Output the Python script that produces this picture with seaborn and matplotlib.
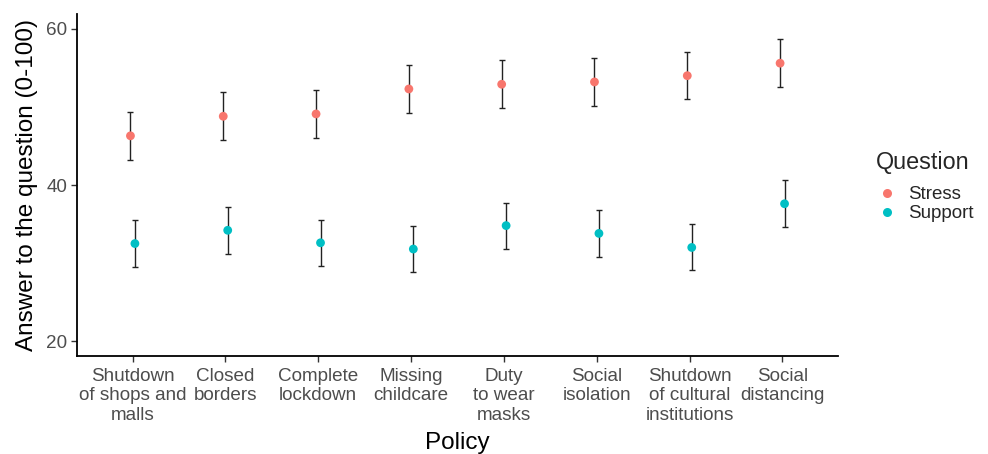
import numpy as np
import pandas as pd
import matplotlib
matplotlib.use("Agg")
import matplotlib.pyplot as plt
import seaborn as sns

# Policy categories (axis tick labels, wrapped)
policies = [
    "Shutdown\nof shops and\nmalls",
    "Closed\nborders",
    "Complete\nlockdown",
    "Missing\nchildcare",
    "Duty\nto wear\nmasks",
    "Social\nisolation",
    "Shutdown\nof cultural\ninstitutions",
    "Social\ndistancing",
]

# Mean answers and half-widths of the error bars
stress_mean = [46.3, 48.8, 49.1, 52.3, 52.9, 53.2, 54.0, 55.6]
stress_err = [3.1, 3.1, 3.05, 3.05, 3.1, 3.1, 3.05, 3.1]
support_mean = [32.5, 34.2, 32.6, 31.8, 34.8, 33.8, 32.0, 37.6]
support_err = [3.0, 3.0, 2.95, 2.95, 2.95, 3.0, 2.95, 3.0]

questions = ["Stress", "Support"]
palette = {"Stress": "#F8766D", "Support": "#00BFC4"}
dodge = {"Stress": -0.024, "Support": 0.024}

rows = []
for q, means, errs in [("Stress", stress_mean, stress_err),
                       ("Support", support_mean, support_err)]:
    for i, (m, e) in enumerate(zip(means, errs)):
        rows.append({"Policy": policies[i], "pos": i + 1 + dodge[q],
                     "Question": q, "Answer": m, "err": e})
df = pd.DataFrame(rows)

sns.set_theme(style="ticks")
plt.rcParams["font.family"] = ["Liberation Sans", "DejaVu Sans"]

fig = plt.figure(figsize=(9.88, 4.54), dpi=100)
ax = fig.add_axes([77 / 988, 1 - 356 / 454, (838 - 77) / 988, (356 - 14) / 454])

# Error bars underneath the points
for q in questions:
    sub = df[df["Question"] == q]
    ax.errorbar(sub["pos"], sub["Answer"], yerr=sub["err"], fmt="none",
                ecolor="#222222", elinewidth=1.0, capsize=2.5, capthick=1.0,
                zorder=2)

sns.scatterplot(data=df, x="pos", y="Answer", hue="Question",
                hue_order=questions, palette=palette, s=40, linewidth=0,
                ax=ax, zorder=3, legend=False)

ax.set_xlim(0.4, 8.6)
ax.set_ylim(18.1, 61.9)
ax.set_xticks(range(1, len(policies) + 1))
ax.set_xticklabels(policies, linespacing=1.2)
ax.set_yticks([20, 40, 60])

ax.set_xlabel("Policy", fontsize=17.5, color="black", labelpad=6)
ax.set_ylabel("Answer to the question (0-100)", fontsize=17.5, color="black",
              labelpad=6)

ax.tick_params(axis="both", labelsize=13.6, labelcolor="#4D4D4D",
               color="#333333", length=4, width=1.0, pad=3)
ax.tick_params(axis="x", pad=4.5)
for side in ["top", "right"]:
    ax.spines[side].set_visible(False)
for side in ["left", "bottom"]:
    ax.spines[side].set_linewidth(1.3)
    ax.spines[side].set_color("black")

# Legend
handles = [plt.Line2D([0], [0], marker="o", linestyle="none", markersize=6.5,
                      markerfacecolor=palette[q], markeredgewidth=0)
           for q in questions]
leg = fig.legend(handles, questions, title="Question", loc="upper left",
                 bbox_to_anchor=(868 / 988, 1 - 143 / 454), frameon=False,
                 fontsize=13.5, title_fontsize=16.8, handletextpad=0.55,
                 labelspacing=0.12, handlelength=1.2, borderaxespad=0)
leg._legend_box.align = "left"
leg._legend_box.sep = 9

fig.savefig("out.png", dpi=100)
